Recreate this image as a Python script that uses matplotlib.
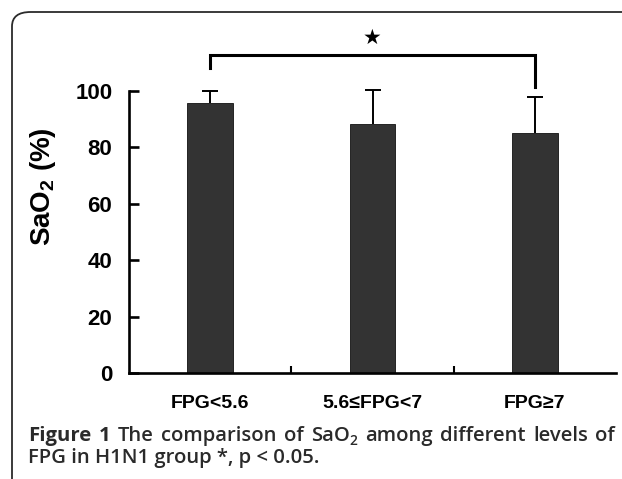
import matplotlib
matplotlib.use("Agg")
import matplotlib.pyplot as plt
from matplotlib.patches import FancyBboxPatch

categories = ["FPG<5.6", "5.6≤FPG<7", "FPG≥7"]
means = [95.7, 88.3, 85.1]
errors = [4.3, 12.1, 12.7]
yticks = [0, 20, 40, 60, 80, 100]
bracket_left = 108.0
bracket_top = 112.8
bracket_right = 101.4
star_y = 119.0

plt.rcParams['mathtext.default'] = 'regular'

W, H = 622, 479
fig = plt.figure(figsize=(W / 100, H / 100), dpi=100)

# frame
frame = FancyBboxPatch((12 / W, -0.2), 1.2, (H - 12) / H + 0.2,
                       boxstyle="round,pad=0,rounding_size=0.03",
                       transform=fig.transFigure, fill=False,
                       edgecolor="#2b2b2b", linewidth=1.3)
fig.patches.append(frame)

ax = fig.add_axes([129 / W, 1 - 373 / H, (616 - 129) / W, (373 - 91) / H])
x = list(range(len(categories)))
ax.bar(x, means, width=0.28, color="#333333", edgecolor="#111111", linewidth=0.6,
       zorder=2)
eb = ax.errorbar(x, means, yerr=[[0] * len(errors), errors], fmt="none",
                 ecolor="black", elinewidth=1.4, capsize=6, capthick=1.4,
                 clip_on=False, zorder=3)
caps = eb[1]
if len(caps) >= 2:
    caps[0].set_visible(False)

ax.set_xlim(-0.5, 2.5)
ax.set_ylim(0, 100)
for s in ["top", "right"]:
    ax.spines[s].set_visible(False)
for s in ["left", "bottom"]:
    ax.spines[s].set_linewidth(1.9)
    ax.spines[s].set_color("black")

ax.set_yticks(yticks)
ax.set_yticklabels([str(t) for t in yticks], fontfamily="Liberation Sans",
                   fontweight="bold", fontsize=16)
ax.tick_params(axis="y", direction="in", length=7.5, width=1.9, pad=12)

ax.set_xticks([0.5, 1.5])
ax.set_xticklabels(["", ""])
ax.tick_params(axis="x", direction="in", length=5, width=1.5)
for xi, c in zip(x, categories):
    ax.text(xi, -10.8, c, ha="center", va="center", fontfamily="Liberation Sans",
            fontweight="bold", fontsize=14, transform=ax.transData)

# significance bracket
ax.plot([0, 0, 2, 2], [bracket_left, bracket_top, bracket_top, bracket_right],
        color="black", lw=2.2, clip_on=False, solid_joinstyle="miter")
ax.text(1, star_y, "★", ha="center", va="center", fontsize=15,
        fontfamily="DejaVu Sans", clip_on=False)

# y label
fig.text(43 / W, 1 - 187 / H, "SaO$_2$ (%)", rotation=90, ha="center", va="center",
         fontfamily="Liberation Sans", fontweight="bold", fontsize=20)

# caption (line 1 justified)
cap_font = "Open Sans"
fs = 14.6
col = "#2a2a2a"
wt = "semibold"
y1 = 1 - 441 / H
y2 = 1 - 463 / H
x_left, x_right = 28, 615
# each word: list of (text, weight, size factor, baseline offset px)
words1 = [[("Figure", "bold", 1, 0)], [("1", "bold", 1, 0)], [("The", wt, 1, 0)],
          [("comparison", wt, 1, 0)], [("of", wt, 1, 0)],
          [("SaO", wt, 1, 0), ("2", wt, 0.68, -4)],
          [("among", wt, 1, 0)], [("different", wt, 1, 0)],
          [("levels", wt, 1, 0)], [("of", wt, 1, 0)]]
fig.canvas.draw()
r = fig.canvas.get_renderer()
items = []
total = 0
for parts in words1:
    plist = []
    wsum = 0
    for txt, fw, sf, dy in parts:
        t = fig.text(0, y1 + dy / H, txt, ha="left", va="baseline",
                     fontfamily=cap_font, fontweight=fw, fontsize=fs * sf, color=col)
        wdt = t.get_window_extent(r).width
        plist.append((t, wdt))
        wsum += wdt
    items.append(plist)
    total += wsum
gap = (x_right - x_left - total) / (len(words1) - 1)
cx = x_left
for plist in items:
    for t, wdt in plist:
        t.set_x(cx / W)
        cx += wdt
    cx += gap
fig.text(x_left / W, y2, "FPG in H1N1 group *, p < 0.05.", ha="left", va="baseline",
         fontfamily=cap_font, fontweight=wt, fontsize=fs, color=col)

fig.savefig("out.png", dpi=100)
